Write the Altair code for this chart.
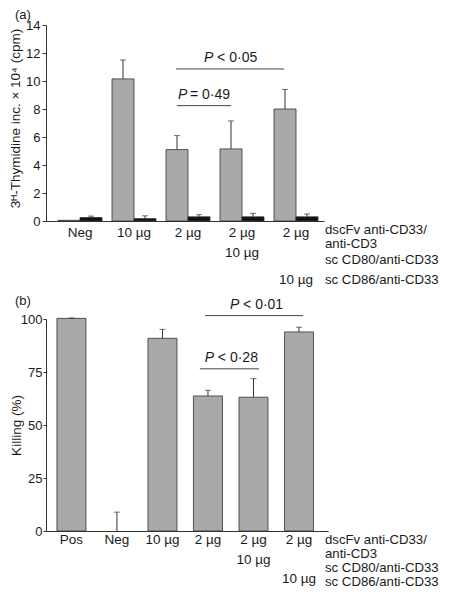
import altair as alt
import pandas as pd

# ---------------- Panel (a): 3H-thymidine incorporation ----------------
groups_a = ["Neg", "10 µg", "2 µg", "2 µg + 10 µg CD80", "2 µg + 10 µg CD86"]
row1_a = ["Neg", "10 µg", "2 µg", "2 µg", "2 µg"]
row2_a = ["", "", "", "10 µg", ""]
row3_a = ["", "", "", "", "10 µg"]
gray_a = [0.05, 10.15, 5.1, 5.15, 8.0]
gray_err_a = [None, 11.5, 6.1, 7.15, 9.4]
black_a = [0.25, 0.17, 0.3, 0.3, 0.3]
black_err_a = [0.35, 0.37, 0.45, 0.55, 0.5]
yticks_a = [0, 2, 4, 6, 8, 10, 12, 14]
sig_start_a = ["2 µg", "2 µg"]
sig_end_a = ["2 µg + 10 µg CD86", "2 µg + 10 µg CD80"]
sig_y_a = [10.86, 8.24]
sig_rel_a = ["< 0·05", "= 0·49"]
side_a = ["dscFv anti-CD33/", "anti-CD3", "sc CD80/anti-CD33", "sc CD86/anti-CD33"]

# ---------------- Panel (b): killing ----------------
groups_b = ["Pos", "Neg", "10 µg", "2 µg", "2 µg + 10 µg CD80", "2 µg + 10 µg CD86"]
row1_b = ["Pos", "Neg", "10 µg", "2 µg", "2 µg", "2 µg"]
row2_b = ["", "", "", "", "10 µg", ""]
row3_b = ["", "", "", "", "", "10 µg"]
kill_b = [100.3, 0, 90.9, 63.7, 63.1, 93.9]
kill_err_b = [100.5, 8.9, 95.1, 66.4, 71.9, 96.1]
yticks_b = [0, 25, 50, 75, 100]
sig_start_b = ["2 µg", "2 µg"]
sig_end_b = ["2 µg + 10 µg CD86", "2 µg + 10 µg CD80"]
sig_y_b = [101.6, 76.5]
sig_rel_b = ["< 0·01", "< 0·28"]
side_b = ["dscFv anti-CD33/", "anti-CD3", "sc CD80/anti-CD33", "sc CD86/anti-CD33"]

# ---------------- styles ----------------
FONT = "Liberation Sans"
FS = 13
LFS = 13.5
SFS = 13.2
AX = "#333333"
TXT = "#1a1a1a"
GRAY = "#a9a9a9"
BLACK = "#111111"
W_A, H_A = 278, 196
W_B, H_B = 282, 212
SIDE_X = 279


def text_layer(values, xenc):
    df = pd.DataFrame({"g": xenc, "t": values})
    df = df[df["t"] != ""]
    return alt.Chart(df).mark_text(align="center", baseline="alphabetic", fontSize=LFS, color=TXT)


# ===== Panel (a) =====
xscale_a = alt.Scale(domain=groups_a, paddingInner=0.185, paddingOuter=0.1667, align=0.667)
xaxis = alt.Axis(labels=False, ticks=False, title=None, domainColor=AX, domainWidth=1)
yscale_a = alt.Scale(domain=[0, 14], nice=False, zero=True)
yaxis_a = alt.Axis(values=yticks_a, title="3ᴴ-Thymidine inc. × 10⁴ (cpm)", tickSize=4,
                   labelPadding=2, titleX=-24, titleY=93, domainColor=AX, tickColor=AX,
                   labelFontSize=FS, titleFontSize=FS + 0.5, titleFontWeight="normal",
                   labelColor=TXT, titleColor=TXT, grid=False)


def XA(field="group"):
    return alt.X(f"{field}:N", scale=xscale_a, axis=xaxis, sort=groups_a)


def YA(field):
    return alt.Y(f"{field}:Q", scale=yscale_a, axis=yaxis_a)


xoff = alt.XOffset("series:N", sort=["gray", "black"],
                   scale=alt.Scale(domain=["gray", "black"], paddingInner=0, paddingOuter=0))

df_a = pd.DataFrame({
    "group": groups_a * 2,
    "series": ["gray"] * 5 + ["black"] * 5,
    "value": gray_a + black_a,
    "err": gray_err_a + black_err_a,
})

bars_a = alt.Chart(df_a).mark_bar(stroke=AX, strokeWidth=0.8).encode(
    x=XA(), xOffset=xoff, y=YA("value"),
    fill=alt.Fill("series:N", scale=alt.Scale(domain=["gray", "black"], range=[GRAY, BLACK]), legend=None),
)
stem_a = alt.Chart(df_a).transform_filter("isValid(datum.err)").mark_rule(color=AX, strokeWidth=1).encode(
    x=XA(), xOffset=xoff, y=YA("value"), y2="err:Q")
cap_a = alt.Chart(df_a).transform_filter("isValid(datum.err)").mark_tick(color=AX, size=6, thickness=1).encode(
    x=XA(), xOffset=xoff, y=YA("err"))

layers_a = [bars_a, stem_a, cap_a]

# significance lines (a)
sig_style_a = [  # (band position start, end, dx of "P", dx of rest)
    (0.23, 0.23, 28, 41),
    (0.25, 0.25, 1, 13),
]
for (s, e, yv, rel), (b1, b2, dp, dr) in zip(zip(sig_start_a, sig_end_a, sig_y_a, sig_rel_a), sig_style_a):
    d = pd.DataFrame({"s": [s], "e": [e], "y": [yv], "rel": [rel]})
    xs = alt.X("s:N", scale=xscale_a, axis=xaxis, sort=groups_a, bandPosition=b1)
    layers_a.append(alt.Chart(d).mark_rule(color="#444444", strokeWidth=1).encode(
        x=xs, x2=alt.X2("e:N", bandPosition=b2), y=YA("y")))
    layers_a.append(alt.Chart(d).mark_text(align="left", baseline="middle", dx=dp, dy=-11,
                                           fontStyle="italic", fontSize=FS + 1, color=TXT).encode(
        x=xs, y=YA("y"), text=alt.value("P")))
    layers_a.append(alt.Chart(d).mark_text(align="left", baseline="middle", dx=dr, dy=-11,
                                           fontSize=FS + 1, color=TXT).encode(
        x=xs, y=YA("y"), text="rel:N"))

# category labels below (a)
for vals, ypix in zip([row1_a, row2_a, row3_a], [212, 232, 259]):
    layers_a.append(text_layer(vals, groups_a).encode(
        x=XA("g"), y=alt.value(ypix), text="t:N"))

for lab, ypix in zip(side_a, [209, 223, 239, 259]):
    layers_a.append(alt.Chart(pd.DataFrame({"t": [lab]})).mark_text(
        align="left", baseline="alphabetic", fontSize=SFS, color=TXT).encode(
        x=alt.value(SIDE_X), y=alt.value(ypix), text="t:N"))

layers_a.append(alt.Chart(pd.DataFrame({"t": ["(a)"]})).mark_text(
    align="left", baseline="middle", fontSize=FS, color=TXT).encode(
    x=alt.value(-31), y=alt.value(-10.5), text="t:N"))

panel_a = alt.layer(*layers_a).properties(width=W_A, height=H_A)

# ===== Panel (b) =====
xscale_b = alt.Scale(domain=groups_b, paddingInner=0.3626, paddingOuter=0.28, align=0.43)
yscale_b = alt.Scale(domain=[0, 100], nice=False, zero=True)
yaxis_b = alt.Axis(values=yticks_b, title="Killing (%)", tickSize=3,
                   labelPadding=1, titleX=-23, titleY=106, domainColor=AX, tickColor=AX,
                   labelFontSize=FS, titleFontSize=FS + 0.5, titleFontWeight="normal",
                   labelColor=TXT, titleColor=TXT, grid=False)


def XB(field="group"):
    return alt.X(f"{field}:N", scale=xscale_b, axis=xaxis, sort=groups_b)


def YB(field):
    return alt.Y(f"{field}:Q", scale=yscale_b, axis=yaxis_b)


df_b = pd.DataFrame({"group": groups_b, "value": kill_b, "err": kill_err_b})

bars_b = alt.Chart(df_b).transform_filter("datum.value > 0").mark_bar(
    fill=GRAY, stroke=AX, strokeWidth=0.8).encode(x=XB(), y=YB("value"))
stem_b = alt.Chart(df_b).mark_rule(color=AX, strokeWidth=1).encode(x=XB(), y=YB("value"), y2="err:Q")
cap_b = alt.Chart(df_b).mark_tick(color=AX, size=6, thickness=1).encode(x=XB(), y=YB("err"))

layers_b = [bars_b, stem_b, cap_b]

sig_style_b = [
    (0.4, 0.64, 25, 38),
    (0.22, 0.69, 5, 18),
]
for (s, e, yv, rel), (b1, b2, dp, dr) in zip(zip(sig_start_b, sig_end_b, sig_y_b, sig_rel_b), sig_style_b):
    d = pd.DataFrame({"s": [s], "e": [e], "y": [yv], "rel": [rel]})
    xs = alt.X("s:N", scale=xscale_b, axis=xaxis, sort=groups_b, bandPosition=b1)
    layers_b.append(alt.Chart(d).mark_rule(color="#444444", strokeWidth=1).encode(
        x=xs, x2=alt.X2("e:N", bandPosition=b2), y=YB("y")))
    layers_b.append(alt.Chart(d).mark_text(align="left", baseline="middle", dx=dp, dy=-11,
                                           fontStyle="italic", fontSize=FS + 1, color=TXT).encode(
        x=xs, y=YB("y"), text=alt.value("P")))
    layers_b.append(alt.Chart(d).mark_text(align="left", baseline="middle", dx=dr, dy=-11,
                                           fontSize=FS + 1, color=TXT).encode(
        x=xs, y=YB("y"), text="rel:N"))

for vals, ypix in zip([row1_b, row2_b, row3_b], [225, 245, 264]):
    layers_b.append(text_layer(vals, groups_b).encode(
        x=XB("g"), y=alt.value(ypix), text="t:N"))

for lab, ypix in zip(side_b, [225, 239, 253, 267]):
    layers_b.append(alt.Chart(pd.DataFrame({"t": [lab]})).mark_text(
        align="left", baseline="alphabetic", fontSize=SFS, color=TXT).encode(
        x=alt.value(SIDE_X), y=alt.value(ypix), text="t:N"))

layers_b.append(alt.Chart(pd.DataFrame({"t": ["(b)"]})).mark_text(
    align="left", baseline="middle", fontSize=FS, color=TXT).encode(
    x=alt.value(-31), y=alt.value(-18), text="t:N"))

panel_b = alt.layer(*layers_b).properties(width=W_B, height=H_B)

chart = alt.vconcat(panel_a, panel_b, spacing=98, bounds="flush").properties(
    padding={"left": 0, "top": 0, "right": 0, "bottom": 0}
).configure(font=FONT).configure_view(stroke=None).configure_text(font=FONT).configure_axis(
    labelFont=FONT, titleFont=FONT)

chart.save("out.html", embed_options={"renderer": "svg", "actions": False})
